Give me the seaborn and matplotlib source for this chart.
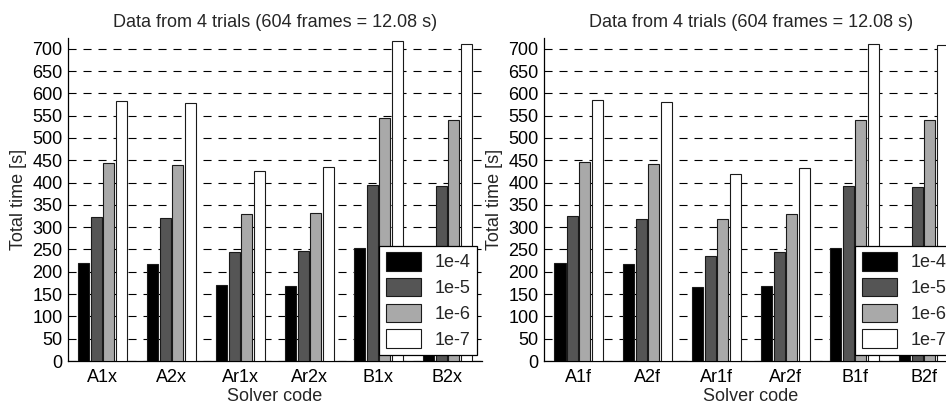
import numpy as np
import pandas as pd
import matplotlib
matplotlib.use("Agg")
import matplotlib.pyplot as plt
import seaborn as sns

# Solver codes for the two panels
solvers_x = ["A1x", "A2x", "Ar1x", "Ar2x", "B1x", "B2x"]
solvers_f = ["A1f", "A2f", "Ar1f", "Ar2f", "B1f", "B2f"]
tolerances = ["1e-4", "1e-5", "1e-6", "1e-7"]

# Total time [s] per solver, one list per tolerance
x_tol_1e4 = [219, 217, 170, 168, 253, 253]
x_tol_1e5 = [322, 320, 244, 247, 394, 392]
x_tol_1e6 = [444, 440, 329, 331, 545, 540]
x_tol_1e7 = [583, 579, 427, 434, 717, 711]

f_tol_1e4 = [220, 217, 166, 168, 253, 250]
f_tol_1e5 = [325, 319, 235, 244, 392, 389]
f_tol_1e6 = [447, 442, 318, 329, 541, 541]
f_tol_1e7 = [585, 581, 419, 432, 711, 709]

title_text = "Data from 4 trials (604 frames = 12.08 s)"
bar_colors = ["#000000", "#555555", "#a9a9a9", "#ffffff"]


def long_table(solvers, series):
    rows = []
    for tol, values in zip(tolerances, series):
        for s, v in zip(solvers, values):
            rows.append({"solver": s, "tol": tol, "time": v})
    return pd.DataFrame(rows)


sns.set_style("white")
plt.rcParams["font.family"] = ["Liberation Sans", "DejaVu Sans"]
plt.rcParams["lines.scale_dashes"] = False
FS = 13

fig = plt.figure(figsize=(9.46, 4.05), dpi=100)
panels = [
    ([0.0719, 0.1086, 0.4376, 0.7975], solvers_x,
     [x_tol_1e4, x_tol_1e5, x_tol_1e6, x_tol_1e7]),
    ([0.5751, 0.1086, 0.4376, 0.7975], solvers_f,
     [f_tol_1e4, f_tol_1e5, f_tol_1e6, f_tol_1e7]),
]

for rect, solvers, series in panels:
    ax = fig.add_axes(rect)
    df = long_table(solvers, series)
    sns.barplot(data=df, x="solver", y="time", hue="tol", order=solvers,
                hue_order=tolerances, palette=bar_colors, saturation=1,
                width=0.72, gap=0.1, errorbar=None, edgecolor="#1a1a1a",
                linewidth=0.8, ax=ax, zorder=3)
    ax.set_xlim(-0.5, 5.5)
    ax.set_ylim(0, 724)
    ax.set_yticks(np.arange(0, 701, 50))
    ax.set_axisbelow(True)
    ax.yaxis.grid(True, color="black", linewidth=0.8,
                  linestyle=(0, (5.8, 5.0)), zorder=0)
    ax.xaxis.grid(False)
    for side in ("top", "right"):
        ax.spines[side].set_visible(False)
    for side in ("left", "bottom"):
        ax.spines[side].set_color("black")
        ax.spines[side].set_linewidth(0.9)
    ax.tick_params(axis="both", direction="in", length=3, width=0.8,
                   labelsize=FS, colors="black", pad=4)
    ax.tick_params(axis="x", length=0, pad=6)
    ax.set_xlabel("Solver code", fontsize=FS, labelpad=1)
    ax.set_ylabel("Total time [s]", fontsize=FS, labelpad=4)
    ax.set_title(title_text, fontsize=FS, pad=8)

    handles, labels = ax.get_legend_handles_labels()
    leg = ax.legend(handles, labels, loc="lower right",
                    bbox_to_anchor=(0.988, 0.0186), borderaxespad=0,
                    fontsize=FS, frameon=True, fancybox=False,
                    edgecolor="black", framealpha=1, handlelength=1.96,
                    handleheight=1.18, labelspacing=0.36, borderpad=0.35,
                    handletextpad=0.75)
    leg.get_frame().set_linewidth(0.9)
    leg.set_zorder(5)

fig.savefig("out.png", dpi=100)
